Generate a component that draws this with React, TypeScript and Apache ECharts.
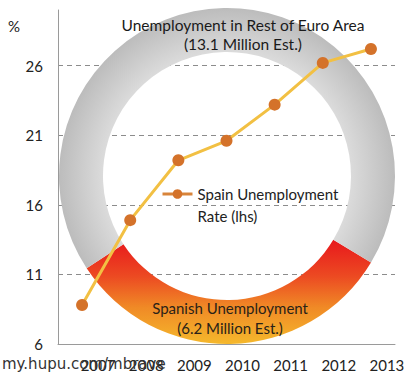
import React, { useEffect, useRef } from "react";
import * as echarts from "echarts";

const years = ["2007", "2008", "2009", "2010", "2011", "2012", "2013"];
const spainRate = [8.8, 14.9, 19.2, 20.6, 23.2, 26.2, 27.2];
const ringNames = ["Spanish Unemployment", "Unemployment in Rest of Euro Area"];
const ringMillions = [6.2, 13.1];
const ringLabels = [
  "Spanish Unemployment\n(6.2 Million Est.)",
  "Unemployment in Rest of Euro Area\n(13.1 Million Est.)",
];
const seriesName = "Spain Unemployment Rate (lhs)";

const FONT = "Lato, 'Open Sans', sans-serif";

export default function App() {
  const ref = useRef<HTMLDivElement>(null);
  useEffect(() => {
    document.body.style.margin = "0";
    if (!ref.current) return;
    const chart = echarts.init(ref.current, null, { renderer: "svg" });
    const option: any = {
      animation: false,
      backgroundColor: "#ffffff",
      textStyle: { fontFamily: FONT },
      grid: { left: 58, right: 18, top: 10, bottom: 32 },
      legend: {
        left: 156,
        top: 156,
        itemWidth: 30,
        itemHeight: 12,
        data: [
          {
            name: seriesName,
            itemStyle: { color: "#d4722a" },
            lineStyle: { color: "#d8843a", width: 3 },
          },
        ],
        formatter: () => "\nSpain Unemployment\nRate (lhs)",
        textStyle: {
          fontFamily: FONT,
          fontSize: 15,
          color: "#222",
          lineHeight: 22,
        },
      },
      xAxis: {
        type: "category",
        data: years,
        boundaryGap: true,
        axisLine: { lineStyle: { color: "#9a9a9a", width: 1 } },
        axisTick: { show: false },
        axisLabel: {
          fontFamily: FONT,
          fontSize: 15,
          color: "#222",
          margin: 13,
          padding: [0, 0, 0, 32],
        },
      },
      yAxis: {
        type: "value",
        min: 6,
        max: 30,
        interval: 5,
        axisLine: { show: true, lineStyle: { color: "#9a9a9a", width: 1 } },
        axisTick: { show: false },
        axisLabel: {
          fontFamily: FONT,
          fontSize: 15,
          color: "#222",
          margin: 15,
          showMaxLabel: false,
        },
        splitLine: {
          show: true,
          showMinLine: false,
          showMaxLine: false,
          lineStyle: { type: [5, 4], color: "#8c8c8c", width: 1 },
        },
      },
      graphic: [
        {
          type: "text",
          left: 8,
          top: 18,
          style: { text: "%", font: `15px ${FONT}`, fill: "#222" },
        },
        {
          type: "text",
          left: 2,
          top: 356,
          z: 10,
          style: {
            text: "my.hupu.com/mbrave",
            font: "15px 'DejaVu Sans', sans-serif",
            fill: "#333",
          },
        },
      ],
      series: [
        {
          type: "pie",
          center: [227, 176],
          radius: [124, 168],
          startAngle: -31,
          clockwise: true,
          z: 2,
          silent: true,
          labelLine: { show: false },
          labelLayout: (p: any) =>
            p.dataIndex === 0 ? { dx: 0, dy: -7 } : { dx: 19, dy: 7 },
          data: [
            {
              name: ringNames[0],
              value: ringMillions[0],
              itemStyle: {
                color: {
                  type: "linear",
                  x: 0,
                  y: 0,
                  x2: 0,
                  y2: 1,
                  colorStops: [
                    { offset: 0, color: "#e8181c" },
                    { offset: 0.35, color: "#ec4a22" },
                    { offset: 0.65, color: "#f08a26" },
                    { offset: 1, color: "#f5b82c" },
                  ],
                },
              },
              label: {
                show: true,
                position: "inside",
                formatter: ringLabels[0],
                fontFamily: FONT,
                fontSize: 15,
                lineHeight: 20,
                color: "#2a2218",
              },
            },
            {
              name: ringNames[1],
              value: ringMillions[1],
              itemStyle: {
                color: {
                  type: "radial",
                  x: 227,
                  y: 176,
                  r: 168,
                  global: true,
                  colorStops: [
                    { offset: 0, color: "#e0e0e0" },
                    { offset: 0.73, color: "#dcdcdc" },
                    { offset: 1, color: "#bcbcbc" },
                  ],
                },
              },
              label: {
                show: true,
                position: "inside",
                formatter: ringLabels[1],
                fontFamily: FONT,
                fontSize: 15.5,
                lineHeight: 19,
                color: "#1a1a1a",
              },
            },
          ],
        },
        {
          name: seriesName,
          type: "line",
          z: 5,
          data: spainRate,
          symbol: "circle",
          symbolSize: 12,
          lineStyle: { color: "#f2c043", width: 3 },
          itemStyle: { color: "#d4722a" },
        },
      ],
    };
    chart.setOption(option);
    return () => chart.dispose();
  }, []);
  return <div ref={ref} style={{ width: 413, height: 376 }} />;
}
